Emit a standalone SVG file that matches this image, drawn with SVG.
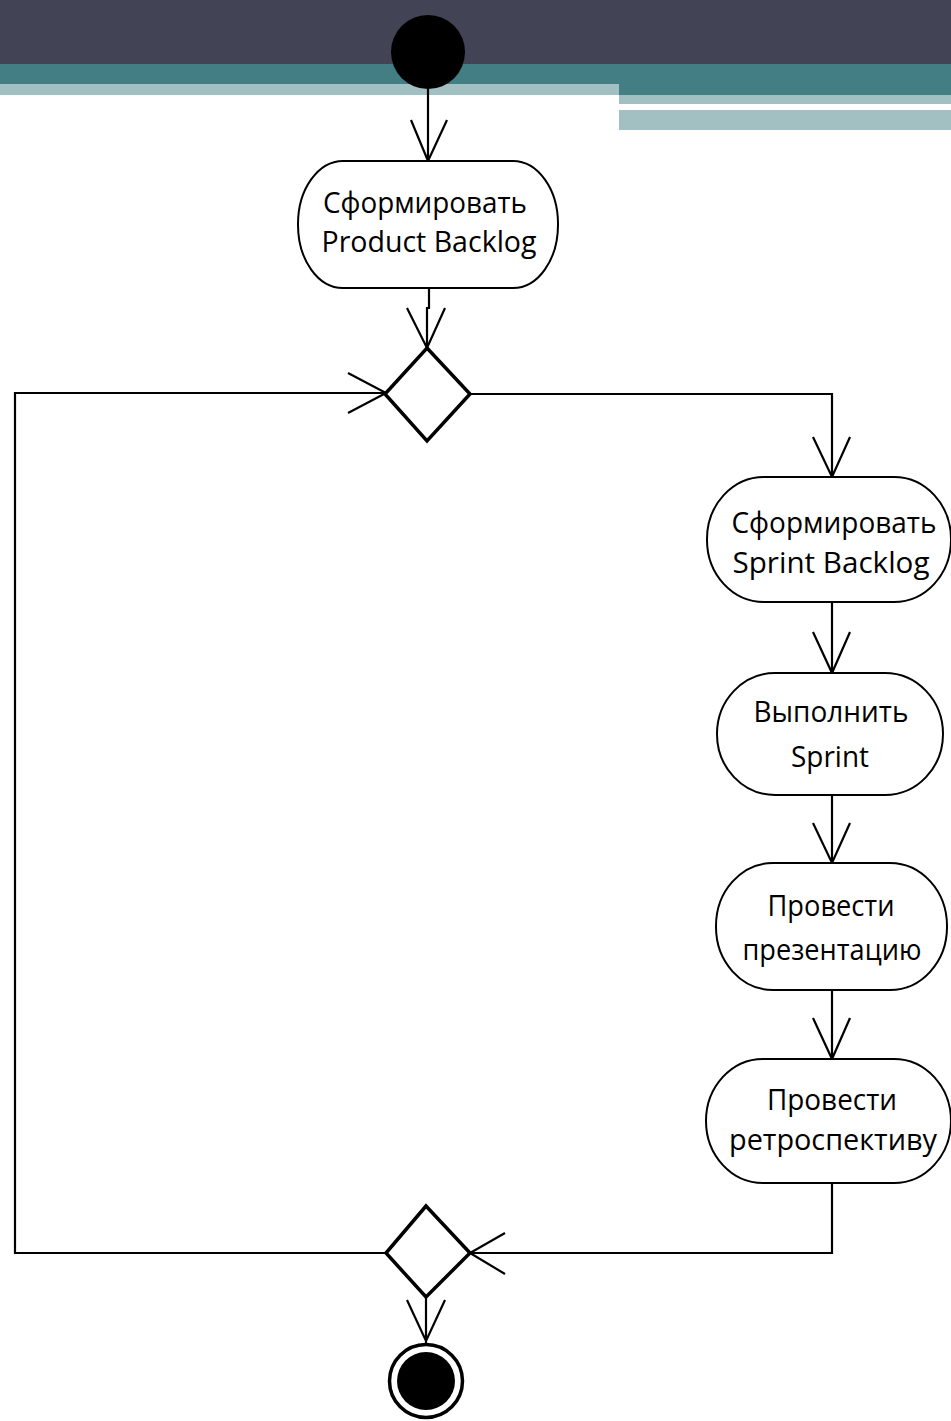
<svg xmlns="http://www.w3.org/2000/svg" width="951" height="1421" viewBox="0 0 951 1421">
<style>
.node{fill:#fff;stroke:#000;stroke-width:2}
.lbl{font-family:"Open Sans","Noto Sans",sans-serif;font-size:30px;fill:#000;text-anchor:middle}
.ln{fill:none;stroke:#000;stroke-width:2.2}
.dia{fill:#fff;stroke:#000;stroke-width:3.5;stroke-linejoin:miter}
</style>
<rect width="951" height="1421" fill="#fff"/>
<g id="header">
<rect x="0" y="0" width="951" height="64" fill="#424456"/>
<rect x="0" y="64" width="951" height="20" fill="#437E84"/>
<rect x="0" y="84" width="619" height="11" fill="#A2BFC2"/>
<rect x="619" y="84" width="332" height="11" fill="#437E84"/>
<rect x="619" y="95" width="332" height="9" fill="#A2BFC2"/>
<rect x="619" y="110" width="332" height="20" fill="#A2BFC2"/>
</g>
<g id="connectors">
<path class="ln" d="M428,89 V161 M411,120 L428,161 L447,120"/>
<path class="ln" d="M429,288 V308 H427 V348 M407,308 L427,348 L445,308"/>
<path class="ln" d="M470,394 H832 V477 M813,437 L832,477 L850,437"/>
<path class="ln" d="M832,602 V673 M813,632 L832,673 L850,632"/>
<path class="ln" d="M832,795 V863 M813,823 L832,863 L850,823"/>
<path class="ln" d="M832,990 V1059 M813,1018 L832,1059 L850,1018"/>
<path class="ln" d="M832,1183 V1253 H470 M505,1233 L470,1253 L505,1274"/>
<path class="ln" d="M386,1253 H15 V393 H386 M348,373 L386,393 L348,413"/>
<path class="ln" d="M426,1297 V1343 M407,1300 L426,1341 L445,1300"/>
</g>
<g id="start">
<circle cx="428" cy="52" r="37" fill="#000"/>
</g>
<g id="n1">
<rect class="node" x="298" y="161" width="260" height="127" rx="45" ry="63"/>
<text class="lbl" x="425" y="213" textLength="204" lengthAdjust="spacingAndGlyphs">Сформировать</text>
<text class="lbl" x="429" y="252" textLength="215" lengthAdjust="spacingAndGlyphs">Product Backlog</text>
</g>
<g id="d1">
<polygon class="dia" points="427,348 470,394 427,441 385,394"/>
</g>
<g id="n2">
<rect class="node" x="707" y="477" width="244" height="125" rx="57" ry="62"/>
<text class="lbl" x="834" y="533" textLength="205" lengthAdjust="spacingAndGlyphs">Сформировать</text>
<text class="lbl" x="831" y="573" textLength="197" lengthAdjust="spacingAndGlyphs">Sprint Backlog</text>
</g>
<g id="n3">
<rect class="node" x="717" y="673" width="226" height="122" rx="58" ry="61"/>
<text class="lbl" x="831" y="722" textLength="155" lengthAdjust="spacingAndGlyphs">Выполнить</text>
<text class="lbl" x="830" y="767" textLength="78" lengthAdjust="spacingAndGlyphs">Sprint</text>
</g>
<g id="n4">
<rect class="node" x="716" y="863" width="231" height="127" rx="57" ry="63"/>
<text class="lbl" x="831" y="916" textLength="127" lengthAdjust="spacingAndGlyphs">Провести</text>
<text class="lbl" x="832" y="960" textLength="179" lengthAdjust="spacingAndGlyphs">презентацию</text>
</g>
<g id="n5">
<rect class="node" x="706" y="1059" width="245" height="124" rx="57" ry="62"/>
<text class="lbl" x="832" y="1110" textLength="130" lengthAdjust="spacingAndGlyphs">Провести</text>
<text class="lbl" x="833" y="1150" textLength="208" lengthAdjust="spacingAndGlyphs">ретроспективу</text>
</g>
<g id="d2">
<polygon class="dia" points="426,1206 470,1253 426,1297 386,1253"/>
</g>
<g id="end">
<circle cx="426" cy="1381" r="36.5" fill="#fff" stroke="#000" stroke-width="3.5"/>
<circle cx="426" cy="1381" r="29" fill="#000"/>
</g>
</svg>
